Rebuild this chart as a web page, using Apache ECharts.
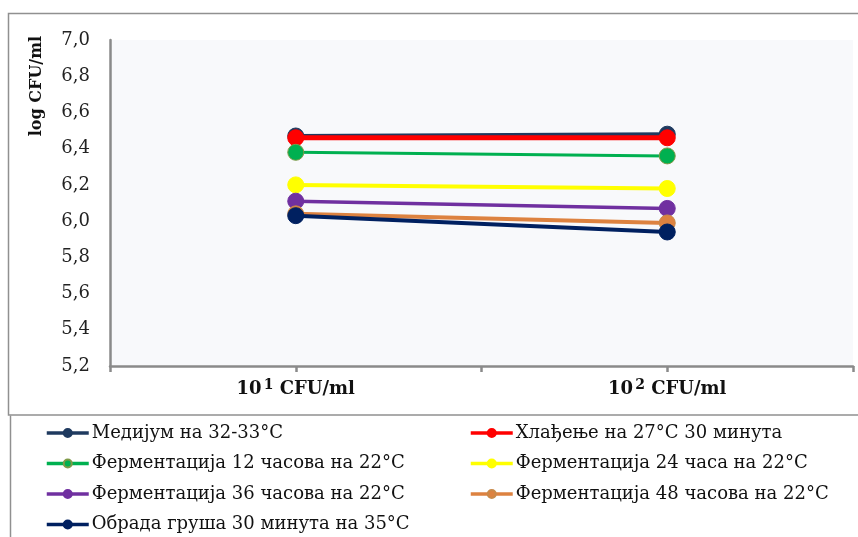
<!DOCTYPE html>
<html>
<head>
<meta charset="utf-8">
<script src="https://cdn.jsdelivr.net/npm/echarts@6/dist/echarts.min.js"></script>
<style>html,body{margin:0;padding:0;background:#fff}#c{width:858px;height:537px}</style>
</head>
<body>
<div id="c"></div>
<script>
const categories = ['10\u00B9 CFU/ml', '10\u00B2 CFU/ml'];
const seriesNames = [
  'Медијум на 32-33°C',
  'Хлађење на 27°C 30 минута',
  'Ферментација 12 часова на 22°C',
  'Ферментација 24 часа на 22°C',
  'Ферментација 36 часова на 22°C',
  'Ферментација 48 часова на 22°C',
  'Обрада груша 30 минута на 35°C'
];
const medium = [6.47, 6.48];
const cooling = [6.46, 6.46];
const ferm12 = [6.38, 6.36];
const ferm24 = [6.20, 6.18];
const ferm36 = [6.11, 6.07];
const ferm48 = [6.04, 5.99];
const curd = [6.03, 5.94];
const yTicks = [5.2, 5.4, 5.6, 5.8, 6.0, 6.2, 6.4, 6.6, 6.8, 7.0];

const values = [medium, cooling, ferm12, ferm24, ferm36, ferm48, curd];
const colors = ['#1f3a5f', '#ff0000', '#00b050', '#ffff00', '#7030a0', '#dd8240', '#002060'];
const borders = ['#1f3a5f', '#ff0000', '#7f9a48', '#ffff00', '#7030a0', '#c98a4a', '#002060'];
const widths = [4, 5, 3, 4, 3.5, 4, 4];

const serif = '"DejaVu Serif", "Liberation Serif", serif';
const chart = echarts.init(document.getElementById('c'), null, {renderer: 'canvas'});

const series = values.map((v, i) => ({
  name: seriesNames[i],
  type: 'line',
  data: v,
  symbol: 'circle',
  symbolSize: 16,
  color: colors[i],
  lineStyle: {width: widths[i], color: colors[i]},
  itemStyle: {color: colors[i], borderColor: borders[i], borderWidth: 1},
  emphasis: {disabled: true},
  animation: false,
  z: 2 + i
}));

// legend slots: [seriesIndex, left, top]
const legendSlots = [[0, 45, 423], [1, 469, 423], [2, 45, 453.5], [3, 469, 453.5], [4, 45, 484], [5, 469, 484], [6, 45, 514.5]];
const legends = legendSlots.map(([si, l, t]) => ({
  left: l, top: t,
  data: [seriesNames[si]],
  itemWidth: 42,
  itemHeight: 10,
  padding: 0,
  lineStyle: {width: 3.5},
  textStyle: {fontFamily: serif, fontSize: 18, color: '#111', lineHeight: 20, padding: [0, 0, 0, -2]}
}));

const supFmt = v => v.replace('\u00B9', '{sup|1}').replace('\u00B2', '{sup|2}');

chart.setOption({
  animation: false,
  backgroundColor: '#ffffff',
  grid: {left: 110, top: 40, right: 5, bottom: 171, show: true, backgroundColor: '#f8f9fb', borderWidth: 0},
  xAxis: [{
    type: 'category',
    data: categories,
    boundaryGap: true,
    axisLine: {lineStyle: {color: '#8a8a8a', width: 2.5}},
    axisTick: {show: true, length: 6, lineStyle: {color: '#8a8a8a', width: 2.5}},
    axisLabel: {
      fontFamily: serif, fontSize: 18, fontWeight: 'bold', color: '#111', margin: 12,
      formatter: supFmt,
      rich: {sup: {fontFamily: serif, fontSize: 14, fontWeight: 'bold', color: '#111', verticalAlign: 'top', padding: [0, 0, 8, 2]}}
    }
  }, {
    type: 'category',
    data: categories,
    position: 'bottom',
    boundaryGap: true,
    axisLine: {show: false},
    axisTick: {show: true, alignWithLabel: true, length: 6, lineStyle: {color: '#8a8a8a', width: 2.5}},
    axisLabel: {show: false}
  }],
  yAxis: {
    type: 'value',
    min: yTicks[0],
    max: yTicks[yTicks.length - 1],
    interval: 0.2,
    axisLine: {show: true, lineStyle: {color: '#8a8a8a', width: 2.5}},
    axisTick: {show: false},
    splitLine: {show: false},
    axisLabel: {
      fontFamily: serif, fontSize: 18, color: '#222', margin: 20,
      formatter: v => v.toFixed(1).replace('.', ',')
    }
  },
  legend: legends,
  graphic: [
    {type: 'polyline', shape: {points: [[880, 13.5], [8.5, 13.5], [8.5, 415], [880, 415]]}, style: {fill: null, stroke: '#909090', lineWidth: 1.5}, z: -1},
    {type: 'polyline', shape: {points: [[10.5, 560], [10.5, 415.5]]}, style: {fill: null, stroke: '#909090', lineWidth: 1.5}, z: -1},
    {type: 'text', x: 37, y: 86, rotation: Math.PI / 2, style: {text: 'log CFU/ml', font: 'bold 16px ' + serif, fill: '#111', textAlign: 'center', textVerticalAlign: 'middle'}}
  ],
  series: series
});
</script>
</body>
</html>
